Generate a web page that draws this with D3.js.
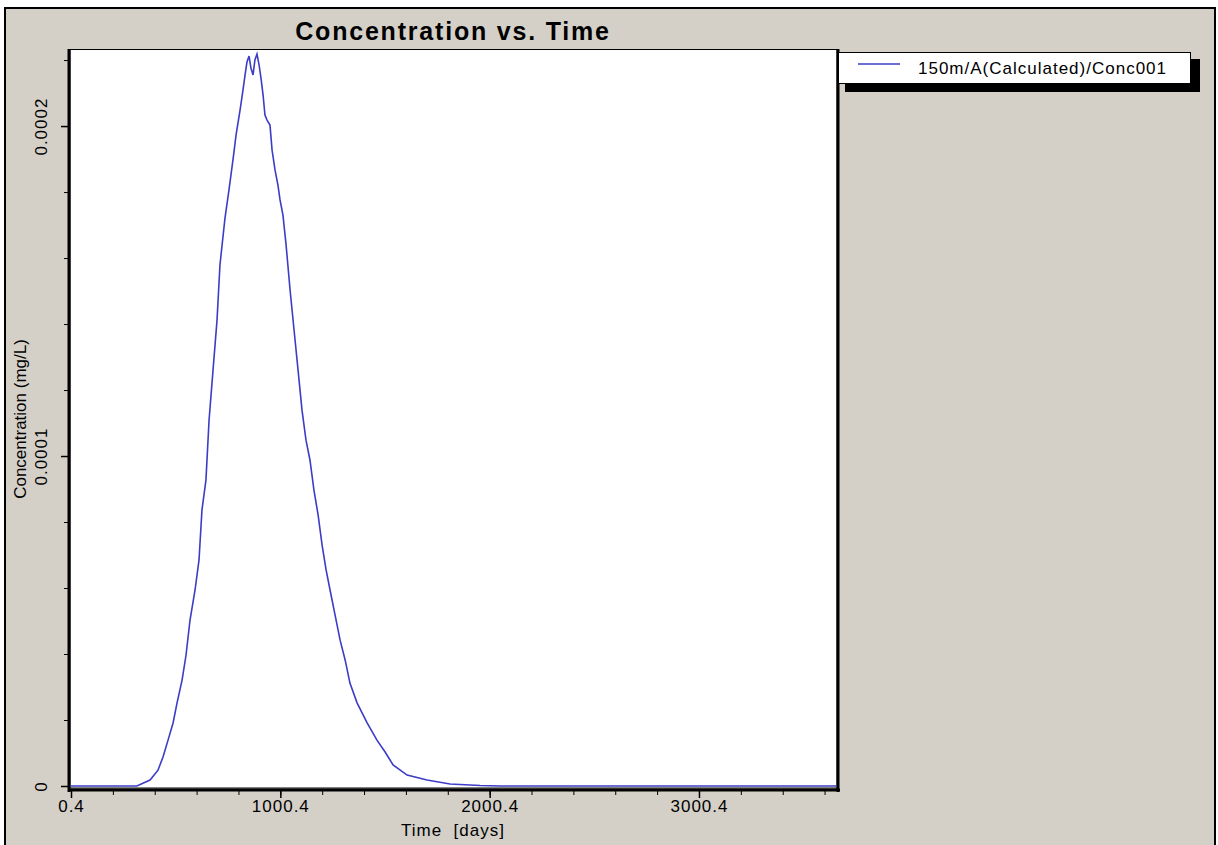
<!DOCTYPE html>
<html>
<head>
<meta charset="utf-8">
<script src="https://cdn.jsdelivr.net/npm/d3@7"></script>
<style>
  body { margin: 0; background: #fff; }
  text { font-family: "Liberation Sans", Arial, sans-serif; fill: #000; }
</style>
</head>
<body>
<div id="chart"></div>
<script>
// Data (time in days, concentration in mg/L)
const times = [0.4, 315, 378, 416, 440, 464, 488, 507, 531, 550, 569, 593, 612, 626, 645, 660, 679, 698, 712, 736, 755, 774, 789, 808, 822, 832, 841, 851, 860, 870, 879, 889, 899, 908, 918, 927, 937, 951, 961, 975, 989, 999, 1013, 1028, 1047, 1066, 1085, 1104, 1123, 1142, 1161, 1181, 1200, 1219, 1238, 1262, 1286, 1310, 1333, 1367, 1415, 1462, 1501, 1539, 1606, 1701, 1811, 1955, 2050, 3655]
const conc = [0, 0, 1.8e-6, 4.8e-6, 8.8e-6, 1.39e-5, 1.91e-5, 2.52e-5, 3.21e-5, 3.97e-5, 5.03e-5, 5.94e-5, 6.85e-5, 8.36e-5, 9.27e-5, 1.109e-4, 1.261e-4, 1.412e-4, 1.579e-4, 1.721e-4, 1.806e-4, 1.897e-4, 1.973e-4, 2.048e-4, 2.109e-4, 2.155e-4, 2.194e-4, 2.212e-4, 2.176e-4, 2.155e-4, 2.2e-4, 2.218e-4, 2.185e-4, 2.145e-4, 2.094e-4, 2.033e-4, 2.018e-4, 2.003e-4, 1.927e-4, 1.867e-4, 1.821e-4, 1.776e-4, 1.73e-4, 1.639e-4, 1.503e-4, 1.382e-4, 1.261e-4, 1.139e-4, 1.048e-4, 9.88e-5, 8.97e-5, 8.21e-5, 7.3e-5, 6.55e-5, 5.94e-5, 5.18e-5, 4.42e-5, 3.82e-5, 3.12e-5, 2.52e-5, 1.91e-5, 1.39e-5, 1.03e-5, 6.4e-6, 3.3e-6, 1.8e-6, 6e-7, 1.5e-7, 0, 0]
const xTicks = [0.4, 1000.4, 2000.4, 3000.4]
const xMinorTicks = d3.range(0.4, 3655, 200)
const yTicks = [0, 0.0001, 0.0002]
const yMinorTicks = d3.range(0, 0.000223, 0.00002)
const seriesName = '150m/A(Calculated)/Conc001'

const dataset = times.map((t, i) => ({ t: t, c: conc[i] }))

// Dimension
const dim = { width: 1218, height: 845, left: 70, right: 837, top: 50, bottom: 788 }

const svg = d3.select('#chart')
    .append('svg')
    .attr('width', dim.width)
    .attr('height', dim.height)

// Window background
svg.append('rect')
    .attr('x', 5).attr('y', 8)
    .attr('width', 1210).attr('height', 845)
    .attr('fill', '#d4d0c8')
    .attr('stroke', '#000')
    .attr('stroke-width', 2)

// Plot area
svg.append('rect')
    .attr('x', dim.left).attr('y', dim.top - 0.5)
    .attr('width', dim.right - dim.left).attr('height', dim.bottom - dim.top + 0.5)
    .attr('fill', '#fff')
    .attr('stroke', '#000')
    .attr('stroke-width', 1)

// Scales
const xScale = d3.scaleLinear()
    .domain([0.4, 3655])
    .range([71, 836])

const yScale = d3.scaleLinear()
    .domain([0, 0.0002232])
    .range([786, 49.5])

// Line
const line = d3.line()
    .x(d => xScale(d.t))
    .y(d => yScale(d.c))

svg.append('path')
    .datum(dataset)
    .attr('d', line)
    .attr('fill', 'none')
    .attr('stroke', '#3c3cc8')
    .attr('stroke-width', 1.6)

// Thick frame edges
svg.append('line').attr('x1', 69).attr('x2', 69).attr('y1', dim.top - 1).attr('y2', 792)
    .attr('stroke', '#000').attr('stroke-width', 3)
svg.append('line').attr('x1', 68).attr('x2', 840).attr('y1', 790).attr('y2', 790)
    .attr('stroke', '#000').attr('stroke-width', 3)
svg.append('line').attr('x1', 838).attr('x2', 838).attr('y1', dim.top - 1).attr('y2', 792)
    .attr('stroke', '#000').attr('stroke-width', 3)

// X axis
const xAxis = d3.axisBottom(xScale)
    .tickValues(xTicks)
    .tickSize(7)
    .tickPadding(2)
    .tickFormat(d => d3.format('.1f')(d))

const xMinor = svg.append('g')
    .attr('transform', 'translate(0, 791)')
    .call(d3.axisBottom(xScale).tickValues(xMinorTicks).tickSize(4).tickFormat(''))
xMinor.select('.domain').remove()

const xAxisGroup = svg.append('g')
    .attr('transform', 'translate(0, 791)')
    .call(xAxis)
xAxisGroup.select('.domain').remove()
xAxisGroup.selectAll('line').attr('stroke-width', 1.5)
xAxisGroup.selectAll('text')
    .style('font-size', '17px')
    .style('letter-spacing', '1px')
    .attr('fill', '#000')

svg.append('text')
    .attr('x', 453)
    .attr('y', 836)
    .attr('text-anchor', 'middle')
    .style('font-size', '17px')
    .style('letter-spacing', '1px')
    .attr('xml:space', 'preserve')
    .text('Time  [days]')

// Y axis
const yMinor = svg.append('g')
    .attr('transform', 'translate(68, 0)')
    .call(d3.axisLeft(yScale).tickValues(yMinorTicks).tickSize(4).tickFormat(''))
yMinor.select('.domain').remove()

const yAxisGroup = svg.append('g')
    .attr('transform', 'translate(68, 0)')
    .call(d3.axisLeft(yScale).tickValues(yTicks).tickSize(7).tickFormat(d => d === 0 ? '0' : d3.format('.4f')(d)))
yAxisGroup.select('.domain').remove()
yAxisGroup.selectAll('line').attr('stroke-width', 1.5)
yAxisGroup.selectAll('text')
    .attr('x', 0).attr('y', 0).attr('dy', 0)
    .attr('transform', 'translate(-21, 0) rotate(-90)')
    .attr('text-anchor', 'middle')
    .style('font-size', '17px')
    .style('letter-spacing', '1px')
    .attr('fill', '#000')

svg.append('text')
    .attr('transform', 'translate(26, 419) rotate(-90)')
    .attr('text-anchor', 'middle')
    .style('font-size', '17px')
    .text('Concentration (mg/L)')

// Title
svg.append('text')
    .attr('x', 453)
    .attr('y', 40)
    .attr('text-anchor', 'middle')
    .style('font-size', '25px')
    .style('font-weight', 'bold')
    .style('letter-spacing', '1.8px')
    .text('Concentration vs. Time')

// Legend
const legend = svg.append('g')
legend.append('rect')
    .attr('x', 845).attr('y', 59)
    .attr('width', 355).attr('height', 33)
    .attr('fill', '#000')
legend.append('rect')
    .attr('x', 838.5).attr('y', 52.5)
    .attr('width', 352).attr('height', 31)
    .attr('fill', '#fff')
    .attr('stroke', '#000')
    .attr('stroke-width', 1)
legend.append('line')
    .attr('x1', 858).attr('x2', 900)
    .attr('y1', 64).attr('y2', 64)
    .attr('stroke', '#3c3cc8')
    .attr('stroke-width', 1.6)
legend.append('text')
    .attr('x', 918)
    .attr('y', 74)
    .style('font-size', '17px')
    .style('letter-spacing', '1px')
    .text(seriesName)
</script>
</body>
</html>
